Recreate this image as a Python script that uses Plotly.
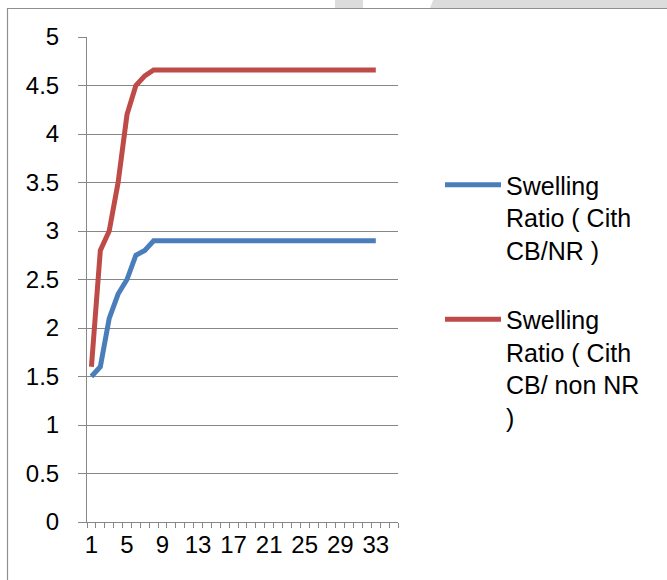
import plotly.graph_objects as go

W, H = 667, 580
# plot area in pixels
L, R, T, B = 87, 398, 37, 522

categories = list(range(1, 36))  # 35 category slots on the axis
cb_nr = [1.5, 1.6, 2.1, 2.35, 2.5, 2.75, 2.8] + [2.9] * 26
cb_non_nr = [1.6, 2.8, 3.0, 3.5, 4.2, 4.5, 4.6] + [4.66] * 26
x_points = categories[:len(cb_nr)]
tick_labels = ["1", "5", "9", "13", "17", "21", "25", "29", "33"]
tick_positions = [int(t) for t in tick_labels]
series_names = ["Swelling<br>Ratio ( Cith<br>CB/NR )",
                "Swelling<br>Ratio ( Cith<br>CB/ non NR<br>)"]

FONT = "Liberation Sans, Arial, sans-serif"
GRID = "#878787"


def px_x(p):
    return (p - L) / (R - L)


def px_y(p):
    return (B - p) / (B - T)


fig = go.Figure()
fig.add_trace(go.Scatter(x=x_points, y=cb_nr, mode="lines", name=series_names[0],
                         line=dict(color="#4A7EBB", width=5), legendgroup="a"))
fig.add_trace(go.Scatter(x=x_points, y=cb_non_nr, mode="lines", name=series_names[1],
                         line=dict(color="#BE4B48", width=5), legendgroup="b"))

fig.update_layout(
    width=W, height=H,
    margin=dict(l=L, r=W - R, t=T, b=H - B),
    paper_bgcolor="white", plot_bgcolor="white",
    font=dict(family=FONT, size=24, color="black"),
    showlegend=True,
    legend=dict(x=px_x(440), y=px_y(162), xanchor="left", yanchor="top",
                font=dict(size=25, family=FONT), valign="top",
                tracegroupgap=34, itemwidth=56, bgcolor="rgba(0,0,0,0)"),
    xaxis=dict(range=[0.5, 35.5], tickvals=tick_positions, ticktext=tick_labels,
               ticks="", showgrid=False, zeroline=False,
               showline=True, linecolor=GRID, linewidth=1,
               minor=dict(tick0=0.5, dtick=1, ticks="outside", ticklen=5,
                          tickcolor=GRID, tickwidth=1, showgrid=False),
               tickfont=dict(size=24, family=FONT), ticklabelstandoff=1),
    yaxis=dict(range=[0, 5], dtick=0.5, tick0=0, showgrid=True, gridcolor=GRID,
               gridwidth=1, zeroline=False, showline=True, linecolor=GRID, linewidth=1,
               ticks="outside", ticklen=8, tickcolor=GRID, tickwidth=1,
               tickfont=dict(size=24, family=FONT), ticklabelstandoff=14),
)

# outer chart frame (cropped at right and bottom) and page background bits above it
fig.add_shape(type="rect", xref="paper", yref="paper",
              x0=px_x(335), x1=px_x(363), y0=px_y(8), y1=px_y(-2),
              fillcolor="#dcdcdc", line_width=0, layer="below")
fig.add_shape(type="path", xref="paper", yref="paper",
              path=f"M {px_x(430)} {px_y(8)} L {px_x(434)} {px_y(-2)} L {px_x(670)} {px_y(-2)} L {px_x(670)} {px_y(8)} Z",
              fillcolor="#dcdcdc", line_width=0, layer="below")
fig.add_shape(type="path", xref="paper", yref="paper",
              path=f"M {px_x(7.5)} {px_y(590)} L {px_x(7.5)} {px_y(8.5)} L {px_x(670)} {px_y(8.5)}",
              line=dict(color="#8f8f8f", width=1.2), layer="below")

fig.write_html("out.html")
